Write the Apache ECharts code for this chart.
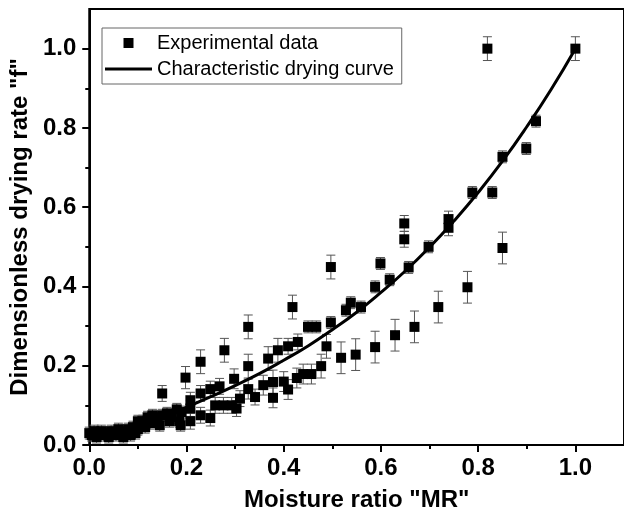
<!DOCTYPE html>
<html>
<head>
<meta charset="utf-8">
<script src="https://cdn.jsdelivr.net/npm/echarts@6/dist/echarts.min.js"></script>
<style>
html,body{margin:0;padding:0;background:#fff;}
#chart{width:624px;height:521px;}
</style>
</head>
<body>
<div id="chart"></div>
<script>
// ---- Data ----
const mr = [
  0.000,0.005,0.010,0.015,0.020,0.025,0.030,0.035,0.040,0.045,0.050,0.055,0.060,0.065,0.070,0.075,0.080,0.085,0.090,0.095,
  0.100,0.100,0.105,0.110,0.115,0.120,0.125,0.130,0.135,0.140,0.145,0.150,0.150,0.160,0.165,0.170,0.180,0.185,0.188,0.190,
  0.198,0.208,0.208,0.208,0.229,0.229,0.229,0.249,0.249,0.259,0.268,0.276,0.278,0.293,0.298,0.303,0.310,0.327,0.327,0.327,
  0.341,0.358,0.368,0.378,0.378,0.388,0.400,0.409,0.409,0.418,0.427,0.429,0.440,0.450,0.457,0.467,0.477,0.488,0.497,0.497,
  0.518,0.528,0.538,0.548,0.559,0.588,0.588,0.599,0.618,0.629,0.648,0.648,0.657,0.669,0.698,0.718,0.739,0.739,0.778,0.788,
  0.819,0.829,0.850,0.850,0.899,0.919,1.000
];
const f = [
  0.030,0.025,0.035,0.020,0.030,0.035,0.025,0.030,0.020,0.035,0.030,0.025,0.040,0.030,0.020,0.035,0.040,0.025,0.045,0.030,
  0.060,0.040,0.050,0.060,0.045,0.070,0.055,0.075,0.060,0.070,0.050,0.130,0.075,0.080,0.060,0.070,0.090,0.060,0.050,0.083,
  0.170,0.113,0.092,0.060,0.210,0.130,0.075,0.141,0.068,0.100,0.148,0.100,0.239,0.100,0.167,0.092,0.117,0.298,0.199,0.141,
  0.121,0.151,0.218,0.159,0.119,0.239,0.160,0.249,0.140,0.348,0.169,0.260,0.179,0.298,0.179,0.298,0.199,0.249,0.449,0.309,
  0.220,0.340,0.359,0.228,0.348,0.399,0.247,0.458,0.417,0.277,0.559,0.519,0.448,0.298,0.500,0.348,0.570,0.548,0.398,0.637,
  1.000,0.637,0.727,0.497,0.748,0.817,1.000
];
const fErr = [
  0.015,0.015,0.015,0.015,0.015,0.015,0.015,0.015,0.015,0.015,0.015,0.015,0.015,0.015,0.015,0.015,0.015,0.015,0.015,0.015,
  0.015,0.015,0.015,0.015,0.015,0.015,0.015,0.015,0.015,0.015,0.015,0.020,0.015,0.015,0.015,0.015,0.015,0.015,0.015,0.015,
  0.028,0.020,0.020,0.020,0.030,0.020,0.020,0.020,0.020,0.020,0.020,0.020,0.030,0.020,0.025,0.020,0.020,0.030,0.030,0.025,
  0.020,0.025,0.030,0.030,0.025,0.030,0.025,0.020,0.025,0.030,0.025,0.020,0.025,0.015,0.025,0.015,0.030,0.030,0.030,0.015,
  0.040,0.015,0.015,0.040,0.015,0.015,0.040,0.015,0.015,0.040,0.020,0.020,0.015,0.040,0.015,0.040,0.020,0.020,0.040,0.015,
  0.030,0.015,0.015,0.040,0.015,0.015,0.030
];
const curveMR = [0.19,0.25,0.30,0.35,0.40,0.45,0.50,0.55,0.60,0.65,0.70,0.75,0.80,0.85,0.90,0.95,1.00];
const curveF  = [0.090,0.122,0.150,0.180,0.214,0.250,0.291,0.335,0.385,0.439,0.499,0.565,0.637,0.716,0.803,0.897,1.000];

const xMajorTicks = [0.0,0.2,0.4,0.6,0.8,1.0];
const xMinorTicks = [0.1,0.3,0.5,0.7,0.9];
const yMajorTicks = [0.0,0.2,0.4,0.6,0.8,1.0];
const yMinorTicks = [0.1,0.3,0.5,0.7,0.9];

const xTitle = 'Moisture ratio "MR"';
const yTitle = 'Dimensionless drying rate "f"';
const seriesNames = ['Experimental data','Characteristic drying curve'];

// ---- Build ----
const pts = mr.map((x,i)=>[x,f[i]]);
const errPts = mr.map((x,i)=>[x,f[i],fErr[i]]);
const curve = curveMR.map((x,i)=>[x,curveF[i]]);

const FONT = '"Liberation Sans", Arial, sans-serif';
const labelStyle = {fontFamily:FONT,fontWeight:'bold',fontSize:24,color:'#000'};
const titleStyle = {fontFamily:FONT,fontWeight:'bold',fontSize:24,color:'#000'};

function baseAxis(extra){
  return Object.assign({
    type:'value', min:0, max:1.1, splitLine:{show:false}
  }, extra);
}

const chart = echarts.init(document.getElementById('chart'), null, {renderer:'canvas'});
chart.setOption({
  animation:false,
  backgroundColor:'#fff',
  grid:{left:88,right:-4,top:9,bottom:76,show:true,borderColor:'#000',borderWidth:2,backgroundColor:'transparent'},
  legend:{
    left:102, top:28, orient:'vertical',
    padding:[5,8,5,3], itemGap:6, itemWidth:47, itemHeight:10,
    borderColor:'#666', borderWidth:1, backgroundColor:'#fff',
    textStyle:{fontFamily:FONT,fontSize:20,color:'#000',lineHeight:20},
    data:[
      {name:seriesNames[0], icon:'path://M0,0h10v10h-10z', itemStyle:{color:'#000',opacity:1}},
      {name:seriesNames[1], icon:'path://M0,0H47V3H0Z', itemStyle:{color:'#000',opacity:1}}
    ]
  },
  xAxis:[
    baseAxis({
      position:'bottom',
      name:xTitle, nameLocation:'middle', nameGap:43,
      nameTextStyle:titleStyle,
      axisLine:{show:true,onZero:false,lineStyle:{color:'#000',width:2}},
      axisTick:{show:true,length:7,lineStyle:{color:'#000',width:2},customValues:xMajorTicks},
      axisLabel:{show:true,margin:11,customValues:xMajorTicks,formatter:v=>v.toFixed(1),...labelStyle}
    }),
    baseAxis({
      position:'bottom',
      axisLine:{show:false},
      axisTick:{show:true,length:4,lineStyle:{color:'#000',width:2},customValues:xMinorTicks},
      axisLabel:{show:false}
    })
  ],
  yAxis:[
    baseAxis({
      position:'left',
      name:yTitle, nameLocation:'middle', nameGap:54,
      nameTextStyle:titleStyle,
      axisLine:{show:true,onZero:false,lineStyle:{color:'#000',width:2}},
      axisTick:{show:true,length:7,lineStyle:{color:'#000',width:2},customValues:yMajorTicks},
      axisLabel:{show:true,margin:13,customValues:yMajorTicks,formatter:v=>v.toFixed(1),...labelStyle}
    }),
    baseAxis({
      position:'left',
      axisLine:{show:false},
      axisTick:{show:true,length:4,lineStyle:{color:'#000',width:2},customValues:yMinorTicks},
      axisLabel:{show:false}
    })
  ],
  series:[
    {
      type:'custom', name:'errorbars', xAxisIndex:0, yAxisIndex:0, z:2, silent:true,
      data:errPts,
      renderItem:function(params, api){
        const x = api.value(0), y = api.value(1), e = api.value(2);
        const top = api.coord([x, y+e]);
        const bot = api.coord([x, y-e]);
        const hw = 4.5;
        const st = {stroke:'#555', lineWidth:1};
        return {type:'group', children:[
          {type:'line', shape:{x1:top[0],y1:top[1],x2:bot[0],y2:bot[1]}, style:st},
          {type:'line', shape:{x1:top[0]-hw,y1:top[1],x2:top[0]+hw,y2:top[1]}, style:st},
          {type:'line', shape:{x1:bot[0]-hw,y1:bot[1],x2:bot[0]+hw,y2:bot[1]}, style:st}
        ]};
      }
    },
    {
      type:'scatter', name:seriesNames[0], xAxisIndex:0, yAxisIndex:0, z:3,
      symbol:'rect', symbolSize:10, itemStyle:{color:'#000',opacity:1},
      data:pts
    },
    {
      type:'line', name:seriesNames[1], xAxisIndex:0, yAxisIndex:0, z:4,
      smooth:true, showSymbol:false, symbol:'none',
      lineStyle:{color:'#000',width:3}, itemStyle:{color:'#000'},
      data:curve
    }
  ]
});
</script>
</body>
</html>
